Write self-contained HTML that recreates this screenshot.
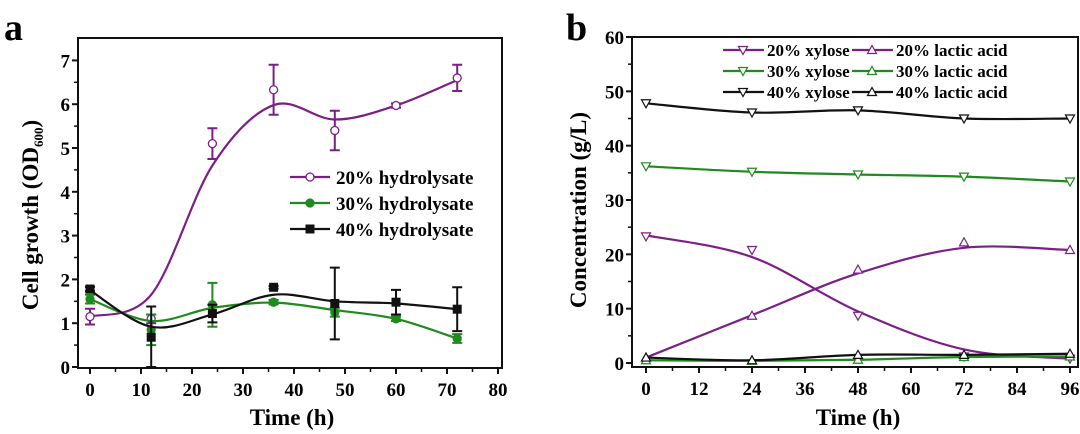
<!DOCTYPE html>
<html><head><meta charset="utf-8"><style>
html,body{margin:0;padding:0;background:#fff;}
svg{display:block;font-family:"Liberation Serif",serif;font-weight:bold;}
</style></head><body>
<svg id="svg" width="1080" height="434" viewBox="0 0 1080 434" xmlns="http://www.w3.org/2000/svg">
<text x="4" y="40" font-size="38">a</text>
<text x="566" y="40" font-size="38">b</text>
<g id="ga"></g>
<g id="gb"></g>
</svg>
<script>
// ---- Chart A data ----
const timesA = [0, 12, 24, 36, 48, 60, 72];
const xTicksA = [0, 10, 20, 30, 40, 50, 60, 70, 80];
const yTicksA = [0, 1, 2, 3, 4, 5, 6, 7];
const od20 = [1.15, 1.1, 5.1, 6.33, 5.4, 5.97, 6.6];
const od20Err = [0.18, 0.1, 0.35, 0.57, 0.45, 0.05, 0.3];
const od20Fit = [1.15, 1.65, 4.6, 5.98, 5.65, 5.97, 6.55];
const od30 = [1.55, 0.85, 1.42, 1.48, 1.25, 1.1, 0.65];
const od30Err = [0.1, 0.35, 0.5, 0.05, 0.1, 0.05, 0.1];
const od30Fit = [1.55, 1.05, 1.35, 1.47, 1.3, 1.1, 0.65];
const od40 = [1.78, 0.68, 1.22, 1.82, 1.45, 1.48, 1.32];
const od40Err = [0.05, 0.7, 0.2, 0.03, 0.82, 0.28, 0.5];
const od40Fit = [1.75, 0.92, 1.2, 1.65, 1.5, 1.45, 1.32];
const legendA = ["20% hydrolysate", "30% hydrolysate", "40% hydrolysate"];
// ---- Chart B data ----
const timesB = [0, 24, 48, 72, 96];
const xTicksB = [0, 12, 24, 36, 48, 60, 72, 84, 96];
const yTicksB = [0, 10, 20, 30, 40, 50, 60];
const xyl20 = [23.3, 20.8, 8.7, 1.2, 0.8];
const xyl20Fit = [23.5, 19.5, 9.5, 2.5, 0.8];
const lac20 = [1.0, 8.7, 17.2, 22.2, 20.8];
const lac20Fit = [1.0, 8.8, 16.5, 21.2, 20.8];
const xyl30 = [36.2, 35.2, 34.7, 34.3, 33.4];
const lac30 = [0.5, 0.4, 0.6, 1.1, 1.2];
const xyl40 = [47.8, 46.1, 46.5, 45.0, 45.0];
const lac40 = [1.0, 0.5, 1.5, 1.5, 1.7];
const legendB = ["20% xylose", "20% lactic acid", "30% xylose", "30% lactic acid", "40% xylose", "40% lactic acid"];

const NS = "http://www.w3.org/2000/svg";
function mk(parent, tag, attrs) {
  const e = document.createElementNS(NS, tag);
  for (const k in attrs) e.setAttribute(k, attrs[k]);
  parent.appendChild(e);
  return e;
}
function spline(pts) {
  let d = "M" + pts[0][0] + "," + pts[0][1];
  for (let i = 0; i < pts.length - 1; i++) {
    const p0 = pts[i - 1] || pts[i], p1 = pts[i], p2 = pts[i + 1], p3 = pts[i + 2] || p2;
    const c1x = p1[0] + (p2[0] - p0[0]) / 6, c1y = p1[1] + (p2[1] - p0[1]) / 6;
    const c2x = p2[0] - (p3[0] - p1[0]) / 6, c2y = p2[1] - (p3[1] - p1[1]) / 6;
    d += " C" + c1x + "," + c1y + " " + c2x + "," + c2y + " " + p2[0] + "," + p2[1];
  }
  return d;
}
function axes(g, X, Y, box, xt, yt, xMinorStep, yMinorStep) {
  const frame = mk(g, "rect", {x: box.l, y: box.t, width: box.r - box.l, height: box.b - box.t, fill: "none", stroke: "#111", "stroke-width": 2});
  
  
  xt.forEach((v, i) => {
    const x = X(v);
    mk(g, "line", {x1: x, x2: x, y1: box.b, y2: box.b + 6, stroke: "#111", "stroke-width": 2});
    if (i < xt.length - 1) { const xm = X(v + xMinorStep); mk(g, "line", {x1: xm, x2: xm, y1: box.b, y2: box.b + 4, stroke: "#111", "stroke-width": 1.5}); }
    const t = mk(g, "text", {x: x, y: box.b + 28, "font-size": 19, "text-anchor": "middle"});
    t.textContent = v;
    
    
  });
  yt.forEach((v, i) => {
    const y = Y(v);
    mk(g, "line", {x1: box.l - 6, x2: box.l, y1: y, y2: y, stroke: "#111", "stroke-width": 2});
    if (i < yt.length - 1) { const ym = Y(v + yMinorStep); mk(g, "line", {x1: box.l - 4, x2: box.l, y1: ym, y2: ym, stroke: "#111", "stroke-width": 1.5}); }
    const t = mk(g, "text", {x: box.l - 8, y: y + 7, "font-size": 19, "text-anchor": "end"});
    t.textContent = v;
    
    
  });
}
function marker(g, type, x, y, color, fill) {
  let e;
  if (type === "circle") e = mk(g, "circle", {cx: x, cy: y, r: 4, fill: fill, stroke: color, "stroke-width": 1.3});
  else if (type === "square") e = mk(g, "rect", {x: x - 4, y: y - 4, width: 8, height: 8, fill: fill, stroke: color, "stroke-width": 1});
  else if (type === "down") e = mk(g, "path", {d: `M${x-4.5},${y-3.5} L${x+4.5},${y-3.5} L${x},${y+4.5} Z`, fill: fill, stroke: color, "stroke-width": 1.2});
  else e = mk(g, "path", {d: `M${x-4.5},${y+3.5} L${x+4.5},${y+3.5} L${x},${y-4.5} Z`, fill: fill, stroke: color, "stroke-width": 1.2});
  
  
  return e;
}

// ---------- Chart A ----------
(function () {
  const g = document.getElementById("ga");
  const box = {l: 78, r: 502, t: 38, b: 368};
  const X = v => 90 + v * (498 - 90) / 80;
  const Y = v => 367 - v * 43.8;
  axes(g, X, Y, box, xTicksA, yTicksA, 5, 0.5);
  const series = [
    {vals: od20, err: od20Err, fit: od20Fit, color: "#7b1f86", m: "circle", fill: "#fff", name: "series-20"},
    {vals: od30, err: od30Err, fit: od30Fit, color: "#1f8a1f", m: "circle", fill: "#1f8a1f", name: "series-30"},
    {vals: od40, err: od40Err, fit: od40Fit, color: "#111", m: "square", fill: "#111", name: "series-40"}
  ];
  series.forEach(s => {
    const sg = mk(g, "g", {});
    
    
    const p = mk(sg, "path", {d: spline(timesA.map((t, i) => [X(t), Y(s.fit[i])])), fill: "none", stroke: s.color, "stroke-width": 2.2});
    
    
    timesA.forEach((t, i) => {
      const x = X(t), y1 = Y(s.vals[i] + s.err[i]), y2 = Y(Math.max(0, s.vals[i] - s.err[i]));
      mk(sg, "path", {d: `M${x},${y1} V${y2} M${x-5},${y1} H${x+5} M${x-5},${y2} H${x+5}`, stroke: s.color, "stroke-width": 2, fill: "none"});
      marker(sg, s.m, x, Y(s.vals[i]), s.color, s.fill);
    });
  });
  const rowsY = [177, 203, 229];
  series.forEach((s, i) => {
    const y = rowsY[i];
    mk(g, "line", {x1: 290, x2: 330, y1: y, y2: y, stroke: s.color, "stroke-width": 2.2});
    marker(g, s.m, 310, y, s.color, s.fill);
    const t = mk(g, "text", {x: 336, y: y + 7, "font-size": 19});
    t.textContent = legendA[i];
    
    
  });
  const yt = mk(g, "text", {x: 0, y: 0, "font-size": 23, "text-anchor": "middle", transform: "translate(38,215) rotate(-90)"});
  yt.innerHTML = 'Cell growth (OD<tspan font-size="13" dy="5">600</tspan><tspan dy="-5">)</tspan>';
  
  
  const xt = mk(g, "text", {x: 292, y: 425, "font-size": 23, "text-anchor": "middle"});
  xt.textContent = "Time (h)";
  
  
})();

// ---------- Chart B ----------
(function () {
  const g = document.getElementById("gb");
  const box = {l: 632, r: 1078, t: 37, b: 367};
  const X = v => 646 + v * (1070 - 646) / 96;
  const Y = v => 363 - v * (363 - 37) / 60;
  axes(g, X, Y, box, xTicksB, yTicksB, 6, 5);
  const P = "#7b1f86", G = "#1f8a1f", K = "#111";
  const series = [
    {vals: xyl20, fit: xyl20Fit, color: P, m: "down", name: "xylose-20"},
    {vals: lac20, fit: lac20Fit, color: P, m: "up", name: "lactic-20"},
    {vals: xyl30, fit: xyl30, color: G, m: "down", name: "xylose-30"},
    {vals: lac30, fit: lac30, color: G, m: "up", name: "lactic-30"},
    {vals: xyl40, fit: xyl40, color: K, m: "down", name: "xylose-40"},
    {vals: lac40, fit: lac40, color: K, m: "up", name: "lactic-40"}
  ];
  series.forEach(s => {
    const sg = mk(g, "g", {});
    
    
    const p = mk(sg, "path", {d: spline(timesB.map((t, i) => [X(t), Y(s.fit[i])])), fill: "none", stroke: s.color, "stroke-width": 2.2});
    
    
    timesB.forEach((t, i) => marker(sg, s.m, X(t), Y(s.vals[i]), s.color, "#fff"));
  });
  const rowsY = [50, 71, 92];
  series.forEach((s, i) => {
    const y = rowsY[Math.floor(i / 2)];
    const x0 = i % 2 === 0 ? 723 : 852;
    mk(g, "line", {x1: x0, x2: x0 + 41, y1: y, y2: y, stroke: s.color, "stroke-width": 2.2});
    marker(g, s.m, x0 + 20, y, s.color, "#fff");
    const t = mk(g, "text", {x: x0 + 44, y: y + 6, "font-size": 17});
    t.textContent = legendB[i];
    
    
  });
  const yt = mk(g, "text", {x: 0, y: 0, "font-size": 23, "text-anchor": "middle", transform: "translate(586,210) rotate(-90)"});
  yt.textContent = "Concentration (g/L)";
  
  
  const xt = mk(g, "text", {x: 858, y: 425, "font-size": 23, "text-anchor": "middle"});
  xt.textContent = "Time (h)";
  
  
})();
</script>
</body></html>
